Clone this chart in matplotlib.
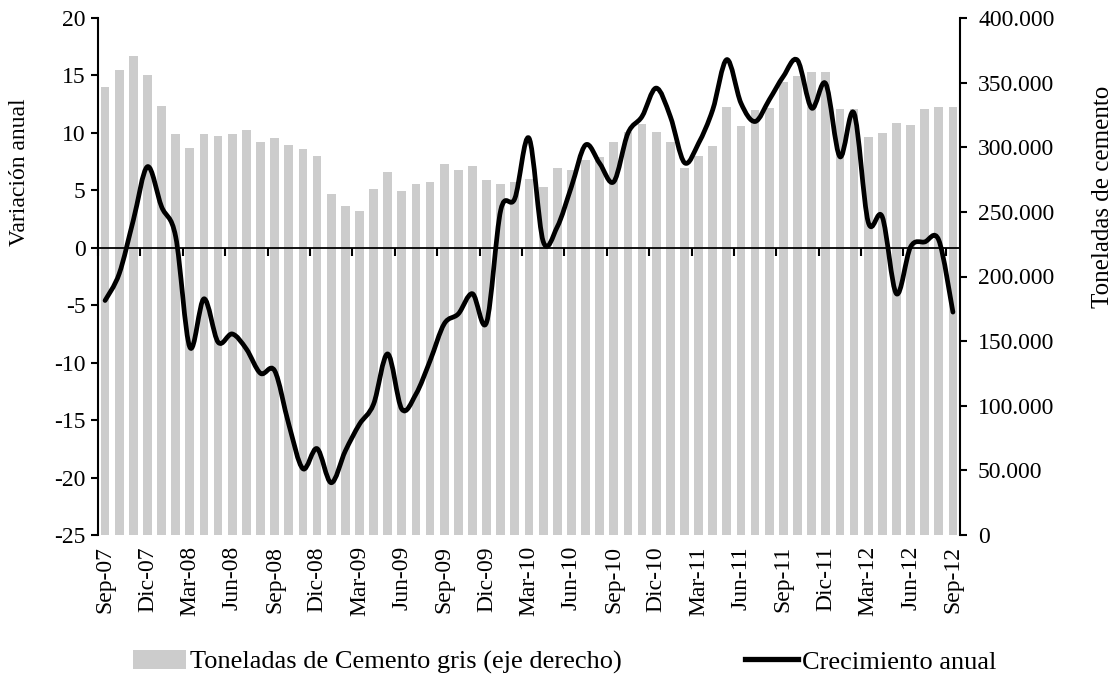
import matplotlib
matplotlib.use("Agg")
import matplotlib.pyplot as plt
import numpy as np
from matplotlib.path import Path
from matplotlib.patches import PathPatch, Patch
from matplotlib.lines import Line2D
from matplotlib.ticker import FuncFormatter, MultipleLocator

plt.rcParams['font.family'] = ['Liberation Serif', 'DejaVu Serif']
plt.rcParams['axes.unicode_minus'] = False

# x tick labels (every third month, Sep-07 .. Sep-12)
tick_labels = ["Sep-07", "Dic-07", "Mar-08", "Jun-08", "Sep-08", "Dic-08", "Mar-09",
               "Jun-09", "Sep-09", "Dic-09", "Mar-10", "Jun-10", "Sep-10", "Dic-10",
               "Mar-11", "Jun-11", "Sep-11", "Dic-11", "Mar-12", "Jun-12", "Sep-12"]

# Toneladas de cemento gris (thousands), monthly Sep-07 .. Sep-12
cement_k = [347.0, 359.5, 370.5, 356.2, 332.2, 310.6, 299.6, 310.6, 308.7, 310.6,
            313.4, 304.3, 307.4, 301.4, 298.3, 293.6, 263.6, 254.5, 250.8, 267.8,
            280.8, 266.4, 271.4, 273.0, 287.1, 282.1, 285.2, 274.3, 271.4, 273.0,
            275.4, 269.6, 284.0, 282.1, 290.0, 292.6, 304.0, 312.0, 317.8, 311.8,
            304.0, 284.0, 293.0, 300.9, 330.9, 316.5, 329.0, 330.1, 350.5, 355.0,
            358.3, 358.3, 329.6, 329.6, 308.2, 310.8, 318.4, 317.1, 329.6, 330.9,
            330.9]

# Crecimiento anual (%)
growth = [-4.59, -2.26, 2.40, 7.06, 3.57, 0.95, -8.66, -4.44, -8.22, -7.50,
          -8.81, -10.93, -10.70, -15.36, -19.23, -17.48, -20.45, -17.69, -15.36, -13.61,
          -9.24, -14.05, -12.74, -9.83, -6.62, -5.75, -4.00, -6.48, 3.28, 4.30,
          9.54, 0.57, 1.82, 5.31, 8.95, 7.35, 5.75, 9.97, 11.43, 13.90,
          11.43, 7.41, 9.10, 12.01, 16.38, 12.59, 10.99, 12.88, 14.92, 16.32,
          12.16, 14.28, 7.93, 11.72, 2.26, 2.69, -4.00, 0.07, 0.51, 0.66,
          -5.60]

n = len(growth)
x = np.arange(n)
cement = np.array(cement_k) * 1000.0
FS = 17

fig = plt.figure(figsize=(11.16, 6.89), dpi=100)
rect = [98 / 1116, 154 / 689, 862 / 1116, 517 / 689]
ax_b = fig.add_axes(rect)
ax_l = fig.add_axes(rect)
ax_l.patch.set_visible(False)

# --- bars (right axis) ---
ax_b.bar(x, cement, width=0.62, color='#cccccc', linewidth=0)
ax_b.set_xlim(-0.5, n - 0.5)
ax_b.set_ylim(0, 400000)
ax_b.yaxis.tick_right()
ax_b.yaxis.set_major_locator(MultipleLocator(50000))
ax_b.yaxis.set_major_formatter(FuncFormatter(lambda v, p: f"{int(round(v)):,}".replace(",", ".")))
for s in ['top', 'left', 'bottom']:
    ax_b.spines[s].set_visible(False)
ax_b.spines['right'].set_linewidth(1.5)
ax_b.set_xticks(x[::3])
ax_b.set_xticklabels(tick_labels, rotation=90)
ax_b.tick_params(axis='x', length=0, pad=8, labelsize=FS)
ax_b.tick_params(axis='y', direction='out', length=5, width=1.5, pad=8, labelsize=FS)

# --- line (left axis) ---
ax_l.set_xlim(-0.5, n - 0.5)
ax_l.set_ylim(-25, 20)
ax_l.yaxis.set_major_locator(MultipleLocator(5))
ax_l.spines['top'].set_visible(False)
ax_l.spines['right'].set_visible(False)
ax_l.spines['left'].set_linewidth(1.5)
ax_l.spines['bottom'].set_position(('data', 0))
ax_l.spines['bottom'].set_linewidth(1.3)
ax_l.set_xticks(np.arange(-0.5, n, 3))
ax_l.set_xticklabels([])
ax_l.tick_params(axis='x', direction='out', length=6, width=1.5)
ax_l.tick_params(axis='y', direction='out', length=5, width=1.5, pad=4, labelsize=FS)

pts = np.column_stack([x, np.array(growth)])
verts = [tuple(pts[0])]
codes = [Path.MOVETO]
for i in range(n - 1):
    p0 = pts[i - 1] if i > 0 else pts[i]
    p1 = pts[i]
    p2 = pts[i + 1]
    p3 = pts[i + 2] if i + 2 < n else pts[i + 1]
    c1 = p1 + (p2 - p0) / 6.0
    c2 = p2 - (p3 - p1) / 6.0
    verts += [tuple(c1), tuple(c2), tuple(p2)]
    codes += [Path.CURVE4] * 3
ax_l.add_patch(PathPatch(Path(verts, codes), fill=False, edgecolor='black',
                         lw=3.4, capstyle='round', joinstyle='round'))

# axis titles
fig.text(20 / 1116, 1 - 172 / 689, 'Variación anual', rotation=90,
         ha='center', va='center', fontsize=FS)
fig.text(1103 / 1116, 1 - 197 / 689, 'Toneladas de cemento', rotation=90,
         ha='center', va='center', fontsize=18)

handles = [Patch(facecolor='#cccccc', edgecolor='none', label='Toneladas de Cemento gris (eje derecho)'),
           Line2D([], [], color='black', lw=3.8, label='Crecimiento anual')]
fig.legend(handles=handles, loc='center', bbox_to_anchor=(0.506, 0.039), ncol=2,
           frameon=False, fontsize=19, handlelength=2.0, handletextpad=0.15,
           columnspacing=4.7)

fig.savefig('out.png', dpi=100)
